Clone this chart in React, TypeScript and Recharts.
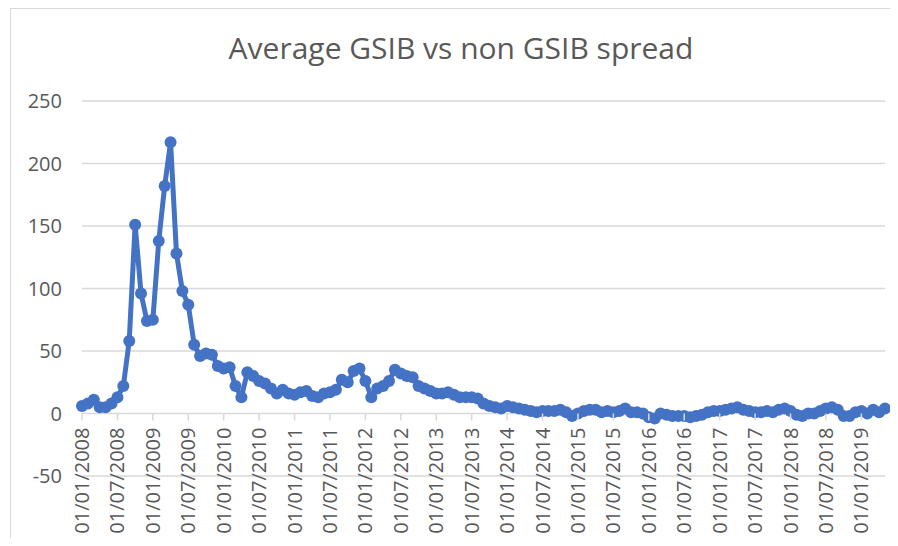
import { CartesianGrid, Line, LineChart, XAxis, YAxis } from "recharts";

// monthly observations, starting January 2008
const startYear = 2008;
const spread = [
  6, 8, 11, 5, 5, 8, 13, 22, 58, 151, 96, 74,
  75, 138, 182, 217, 128, 98, 87, 55, 46, 48, 47, 38,
  36, 37, 22, 13, 33, 30, 26, 24, 20, 16, 19, 16,
  15, 17, 18, 14, 13, 16, 17, 19, 27, 25, 34, 36,
  26, 13, 20, 22, 26, 35, 32, 30, 29, 22, 20, 18,
  16, 16, 17, 15, 13, 13, 13, 12, 8, 6, 5, 4,
  6, 5, 4, 3, 2, 1, 2, 2, 2, 3, 1, -2,
  0, 2, 3, 3, 1, 2, 1, 2, 4, 1, 1, 0,
  -3, -4, 0, -1, -2, -2, -2, -3, -2, -1, 1, 2,
  2, 3, 4, 5, 3, 2, 1, 1, 2, 1, 3, 4,
  2, -1, -2, 0, 0, 2, 4, 5, 3, -2, -2, 1,
  2, 0, 3, 1, 4,
];

const yTicks = [-50, 0, 50, 100, 150, 200, 250];

const months = spread.map((_, i) => {
  const m = (i % 12) + 1;
  const y = startYear + Math.floor(i / 12);
  return `01/${String(m).padStart(2, "0")}/${y}`;
});

const data = months.map((date, i) => ({ date, spread: spread[i] }));

const W = 898;
const H = 546;
const PLOT_TOP = 101;
const PLOT_BOTTOM = 476;
const ZERO_Y =
  PLOT_BOTTOM - ((PLOT_BOTTOM - PLOT_TOP) * (0 - yTicks[0])) / (yTicks[yTicks.length - 1] - yTicks[0]);

const FONT = "'Open Sans', sans-serif";
const TEXT = "#595959";
const GRID = "#d9d9d9";
const BLUE = "#4472C4";

function DateTick(props: any) {
  const { x, payload } = props;
  const ty = ZERO_Y + 14;
  return (
    <g>
      <line x1={x} x2={x} y1={ZERO_Y} y2={ZERO_Y + 7} stroke={GRID} strokeWidth={1.5} />
      <text
        x={x}
        y={ty}
        dy="0.35em"
        textAnchor="end"
        transform={`rotate(-90, ${x}, ${ty})`}
        fill={TEXT}
        fontSize={20}
        fontFamily={FONT}
      >
        {payload.value}
      </text>
    </g>
  );
}

export default function App() {
  return (
    <div
      style={{
        position: "relative",
        width: W,
        height: H,
        margin: -8,
        overflow: "hidden",
        background: "#fff",
      }}
    >
      <div
        style={{
          position: "absolute",
          left: 10,
          top: 8,
          width: 1000,
          height: 1000,
          border: `1.5px solid ${GRID}`,
        }}
      />
      <div
        style={{
          position: "absolute",
          left: 10,
          width: 902,
          top: 33,
          lineHeight: "30px",
          textAlign: "center",
          fontFamily: FONT,
          fontSize: 30,
          color: TEXT,
        }}
      >
        Average GSIB vs non GSIB spread
      </div>
      <div style={{ position: "absolute", left: 0, top: 0 }}>
        <LineChart
          width={W}
          height={H}
          data={data}
          margin={{ top: PLOT_TOP, right: 13, left: 0, bottom: 0 }}
        >
          <CartesianGrid vertical={false} stroke={GRID} strokeWidth={1.5} />
          <XAxis
            dataKey="date"
            interval={5}
            height={H - PLOT_BOTTOM}
            axisLine={false}
            tickLine={false}
            tickSize={0}
            tickMargin={0}
            tick={<DateTick />}
          />
          <YAxis
            domain={[yTicks[0], yTicks[yTicks.length - 1]]}
            ticks={yTicks}
            width={82}
            axisLine={false}
            tickLine={false}
            tickMargin={14}
            tick={{ fill: TEXT, fontSize: 20, fontFamily: FONT }}
          />
          <Line
            type="linear"
            dataKey="spread"
            stroke={BLUE}
            strokeWidth={5}
            strokeLinejoin="round"
            dot={{ r: 6, fill: BLUE, stroke: "none" }}
            activeDot={false}
            isAnimationActive={false}
          />
        </LineChart>
      </div>
    </div>
  );
}
